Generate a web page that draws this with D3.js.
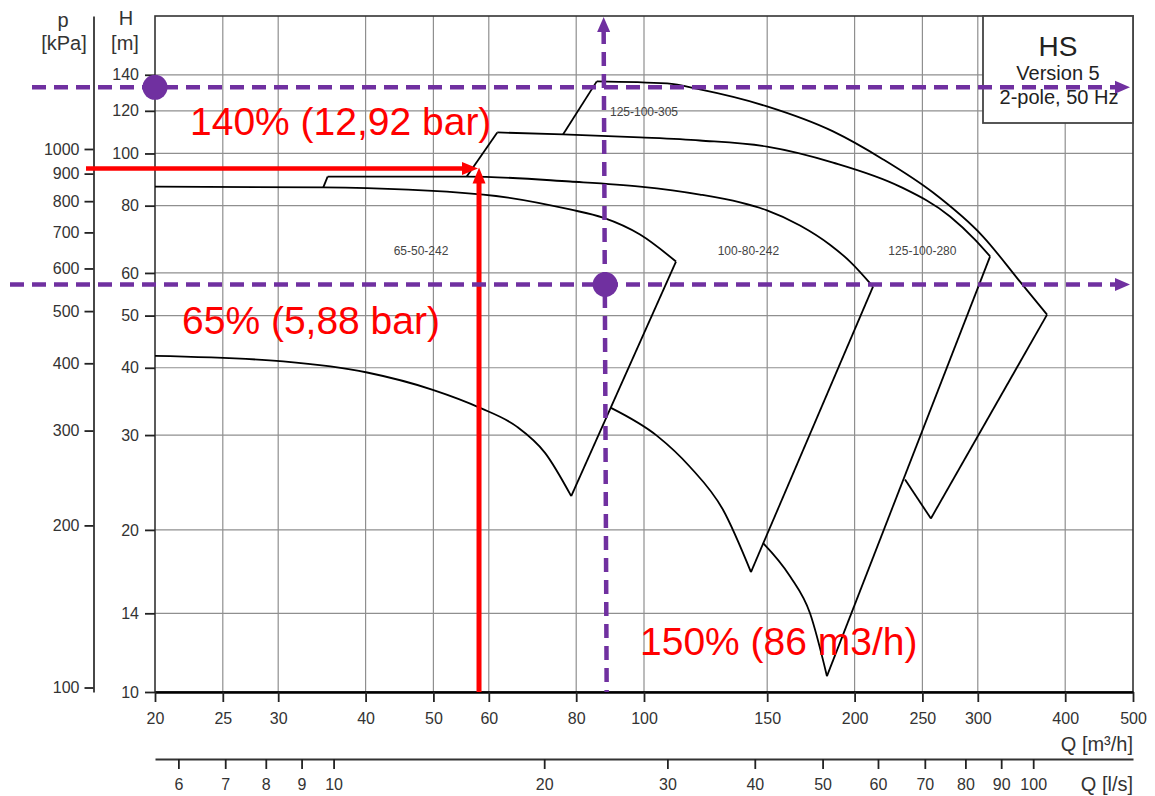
<!DOCTYPE html>
<html>
<head>
<meta charset="utf-8">
<script src="https://cdn.jsdelivr.net/npm/d3@7"></script>
<style>
  body { margin: 0; background: #fff; }
  svg { font-family: "Liberation Sans", Arial, Helvetica, sans-serif; }
</style>
</head>
<body>
<div id="chart"></div>
<script>
// Axis ticks
const qTicks = [20, 25, 30, 40, 50, 60, 80, 100, 150, 200, 250, 300, 400, 500]; // m3/h
const lsTicks = [6, 7, 8, 9, 10, 20, 30, 40, 50, 60, 70, 80, 90, 100];         // l/s
const hTicks = [10, 14, 20, 30, 40, 50, 60, 80, 100, 120, 140];               // m
const pTicks = [100, 200, 300, 400, 500, 600, 700, 800, 900, 1000];           // kPa

// Pump tiles, points are [Q m3/h, H m]
const pump65Max = [[20, 86.8], [34.8, 86.5], [58.9, 83.9], [78.4, 78.7], [87.4, 76.0], [98.7, 70.7], [111.1, 63.0]];
const pump65Min = [[20, 42.1], [30.5, 41.1], [40.2, 39.2], [49.9, 36.4], [58.3, 33.7], [65.8, 31.1], [72.2, 27.8], [78.7, 23.1]];
const pump65Edge = [[111.1, 63.0], [78.7, 23.1]];

const pump100Max = [[35.3, 90.6], [55.8, 90.6], [78.4, 88.7], [98.7, 86.8], [120.2, 83.9], [137.2, 81.1], [149.9, 78.4], [167.1, 73.5], [184.4, 67.7], [197.0, 63.0], [212.5, 56.6]];
const pump100Min = [[89.7, 33.7], [104.4, 29.9], [116.3, 26.2], [129.7, 21.8], [142.2, 16.7]];
const pump100Left = [[34.8, 86.5], [35.3, 90.6]];
const pump100Right = [[212.5, 56.6], [142.2, 16.7]];

const pump280Max = [[61.7, 109.4], [76.6, 108.5], [98.7, 107.1], [120.2, 105.7], [149.9, 103.0], [186.3, 96.2], [232.2, 86.8], [273.8, 76.4], [297.2, 69.2], [312.4, 64.4]];
const pump280Min = [[148.0, 18.9], [161.7, 16.4], [172.7, 14.0], [182.6, 10.7]];
const pump280Left = [[55.8, 90.6], [61.7, 109.4]];
const pump280Right = [[312.4, 64.4], [182.6, 10.7]];

const pump305Max = [[85.6, 136.1], [107.9, 134.9], [120.2, 131.5], [149.9, 122.3], [186.3, 109.9], [219.7, 97.5], [258.9, 84.6], [305.2, 70.1], [344.7, 57.8], [376.8, 50.2]];
const pump305Min = [[236.1, 24.8], [257.1, 21.0]];
const pump305Left = [[76.6, 108.5], [85.6, 136.1]];
const pump305Right = [[376.8, 50.2], [257.1, 21.0]];

// Curve names and where they sit [name, Q, H]
const pumpLabels = [["65-50-242", 48, 66], ["100-80-242", 141, 66], ["125-100-280", 250, 66], ["125-100-305", 100, 119.5]];

// Operating point annotations
const dutyQ = 88;          // m3/h, purple vertical
const dutyHigh = 132.7;    // m, purple top line (140 %)
const dutyLow = 57.1;      // m, purple low line (65 %)
const redQ = 58.1;
const redH = 93.8;

const width = 1155, height = 796;
const margin = { top: 16, bottom: 104, left: 155, right: 22 };

const svg = d3.select('#chart')
  .append('svg')
  .attr('width', width)
  .attr('height', height)
  .style('background', '#fff');

// Log scales for flow and head
const x = d3.scaleLog()
  .domain([20, 500])
  .range([margin.left, width - margin.right]);

const y = d3.scaleLog()
  .domain([10, 180])
  .range([height - margin.bottom, margin.top]);

// pressure in kPa is 9.81 * H, l/s is m3/h / 3.6
const pScale = d3.scaleLog()
  .domain([10 * 9.81, 180 * 9.81])
  .range([height - margin.bottom, margin.top]);

const lsScale = d3.scaleLog()
  .domain([20 / 3.6, 500 / 3.6])
  .range([margin.left, width - margin.right]);

const x0 = margin.left, x1 = width - margin.right;
const yTop = margin.top, yBot = height - margin.bottom;

// Grid lines
svg.append('g')
  .selectAll('line')
  .data(qTicks.slice(1, -1))
  .join('line')
  .attr('x1', d => x(d)).attr('x2', d => x(d))
  .attr('y1', yTop).attr('y2', yBot)
  .attr('stroke', '#8f8f8f')
  .attr('stroke-width', 1.2);

svg.append('g')
  .selectAll('line')
  .data(hTicks.slice(1))
  .join('line')
  .attr('x1', x0).attr('x2', x1)
  .attr('y1', d => y(d)).attr('y2', d => y(d))
  .attr('stroke', '#8f8f8f')
  .attr('stroke-width', 1.2);

// Frame
svg.append('rect')
  .attr('x', x0).attr('y', yTop)
  .attr('width', x1 - x0).attr('height', yBot - yTop)
  .attr('fill', 'none')
  .attr('stroke', '#333')
  .attr('stroke-width', 1.6);

// Pump curves
const curveLine = d3.line()
  .x(d => x(d[0]))
  .y(d => y(d[1]))
  .curve(d3.curveMonotoneX);

const edgeLine = d3.line()
  .x(d => x(d[0]))
  .y(d => y(d[1]));

const curves = [pump65Max, pump65Min, pump100Max, pump100Min, pump280Max, pump280Min, pump305Max, pump305Min];
const edges = [pump65Edge, pump100Left, pump100Right, pump280Left, pump280Right, pump305Left, pump305Right];

svg.append('g')
  .selectAll('path')
  .data(curves)
  .join('path')
  .attr('d', curveLine)
  .attr('fill', 'none')
  .attr('stroke', '#000')
  .attr('stroke-width', 1.8);

svg.append('g')
  .selectAll('path')
  .data(edges)
  .join('path')
  .attr('d', edgeLine)
  .attr('fill', 'none')
  .attr('stroke', '#000')
  .attr('stroke-width', 1.8);

svg.append('g')
  .selectAll('text')
  .data(pumpLabels)
  .join('text')
  .attr('x', d => x(d[1]))
  .attr('y', d => y(d[2]))
  .attr('dy', '0.35em')
  .attr('text-anchor', 'middle')
  .style('font-size', '12px')
  .attr('fill', '#444')
  .text(d => d[0]);

// Title box
const box = svg.append('g');
box.append('rect')
  .attr('x', 983).attr('y', yTop)
  .attr('width', x1 - 983).attr('height', 107)
  .attr('fill', '#fff')
  .attr('stroke', '#444')
  .attr('stroke-width', 1.8);
box.append('text').attr('x', 1058).attr('y', 56).attr('text-anchor', 'middle')
  .style('font-size', '28px').attr('fill', '#222').text('HS');
box.append('text').attr('x', 1058).attr('y', 80).attr('text-anchor', 'middle')
  .style('font-size', '20px').attr('fill', '#222').text('Version 5');
box.append('text').attr('x', 1059).attr('y', 104).attr('text-anchor', 'middle')
  .style('font-size', '20px').attr('fill', '#222').text('2-pole, 50 Hz');

// Axes
function styleAxis(g, size) {
  g.selectAll('text').style('font-size', size).attr('fill', '#333')
    .style('font-family', '"Liberation Sans", Arial, sans-serif');
  g.selectAll('.tick line').attr('stroke', '#222').attr('stroke-width', 1.8);
}

const hAxis = svg.append('g')
  .attr('transform', `translate(${x0}, 0)`)
  .call(d3.axisLeft(y).tickValues(hTicks).tickFormat(d3.format('d')).tickSize(10).tickPadding(6));
hAxis.select('.domain').remove();
styleAxis(hAxis, '16px');

const pAxis = svg.append('g')
  .attr('transform', 'translate(93.5, 0)')
  .call(d3.axisLeft(pScale).tickValues(pTicks).tickFormat(d3.format('d')).tickSize(9).tickSizeOuter(0).tickPadding(5));
pAxis.select('.domain').attr('stroke', '#333').attr('stroke-width', 1.8);
styleAxis(pAxis, '16px');

const qAxis = svg.append('g')
  .attr('transform', `translate(0, ${yBot})`)
  .call(d3.axisBottom(x).tickValues(qTicks).tickFormat(d3.format('d')).tickSize(10).tickSizeOuter(0).tickPadding(11));
qAxis.select('.domain').attr('stroke', '#000').attr('stroke-width', 2.6);
styleAxis(qAxis, '16px');

const lsAxis = svg.append('g')
  .attr('transform', 'translate(0, 759)')
  .call(d3.axisBottom(lsScale).tickValues(lsTicks).tickFormat(d3.format('d')).tickSize(10).tickSizeOuter(0).tickPadding(10));
lsAxis.select('.domain').attr('stroke', '#333').attr('stroke-width', 1.8);
styleAxis(lsAxis, '16px');

// Axis titles
const titles = [
  ['p', 63, 27, 'middle'], ['[kPa]', 64, 50, 'middle'],
  ['H', 126, 25, 'middle'], ['[m]', 125, 50, 'middle'],
  ['Q [m³/h]', x1, 751, 'end'], ['Q [l/s]', x1, 791, 'end']
];
svg.append('g')
  .selectAll('text')
  .data(titles)
  .join('text')
  .attr('x', d => d[1]).attr('y', d => d[2])
  .attr('text-anchor', d => d[3])
  .style('font-size', '20px')
  .attr('fill', '#333')
  .text(d => d[0]);

// Arrow head helper, dir = 'right' or 'up'
function arrowHead(g, tx, ty, dir, color, len, wid) {
  const pts = dir === 'right'
    ? [[tx, ty], [tx - len, ty - wid / 2], [tx - len, ty + wid / 2]]
    : [[tx, ty], [tx - wid / 2, ty + len], [tx + wid / 2, ty + len]];
  g.append('polygon').attr('points', pts.map(p => p.join(',')).join(' ')).attr('fill', color);
}

// Red arrows to the 65-50-242 / 100-80-242 corner
const red = '#ff0000';
const redG = svg.append('g');
redG.append('line')
  .attr('x1', 86).attr('x2', x(redQ) - 14)
  .attr('y1', y(redH)).attr('y2', y(redH))
  .attr('stroke', red).attr('stroke-width', 4.5);
arrowHead(redG, x(redQ) - 1, y(redH), 'right', red, 16, 13);
redG.append('line')
  .attr('x1', x(redQ)).attr('x2', x(redQ))
  .attr('y1', yBot).attr('y2', y(redH) + 14)
  .attr('stroke', red).attr('stroke-width', 5);
arrowHead(redG, x(redQ), y(redH) - 1, 'up', red, 16, 13);

const redTexts = [['140% (12,92 bar)', 190, 135], ['65% (5,88 bar)', 182, 334], ['150% (86 m3/h)', 640, 655]];
redG.selectAll('text')
  .data(redTexts)
  .join('text')
  .attr('x', d => d[1]).attr('y', d => d[2])
  .style('font-size', '39px')
  .attr('fill', red)
  .text(d => d[0]);

// Purple dashed guides
const purple = '#7030a0';
const purpleG = svg.append('g');
[[32, dutyHigh], [10, dutyLow]].forEach(([sx, h]) => {
  purpleG.append('line')
    .attr('x1', sx).attr('x2', x1 - 16)
    .attr('y1', y(h)).attr('y2', y(h))
    .attr('stroke', purple).attr('stroke-width', 4.5)
    .attr('stroke-dasharray', '14,8');
  arrowHead(purpleG, x1 - 3, y(h), 'right', purple, 15, 13);
});
purpleG.append('line')
  .attr('x1', x(dutyQ) - 1.5).attr('x2', x(dutyQ) + 1.5)
  .attr('y1', yTop + 14).attr('y2', yBot)
  .attr('stroke', purple).attr('stroke-width', 4.5)
  .attr('stroke-dasharray', '14,8');
arrowHead(purpleG, x(dutyQ) - 1.5, yTop + 1, 'up', purple, 15, 13);

purpleG.selectAll('circle')
  .data([[20, dutyHigh], [dutyQ, dutyLow]])
  .join('circle')
  .attr('cx', d => x(d[0]))
  .attr('cy', d => y(d[1]))
  .attr('r', 12.5)
  .attr('fill', purple);
</script>
</body>
</html>
